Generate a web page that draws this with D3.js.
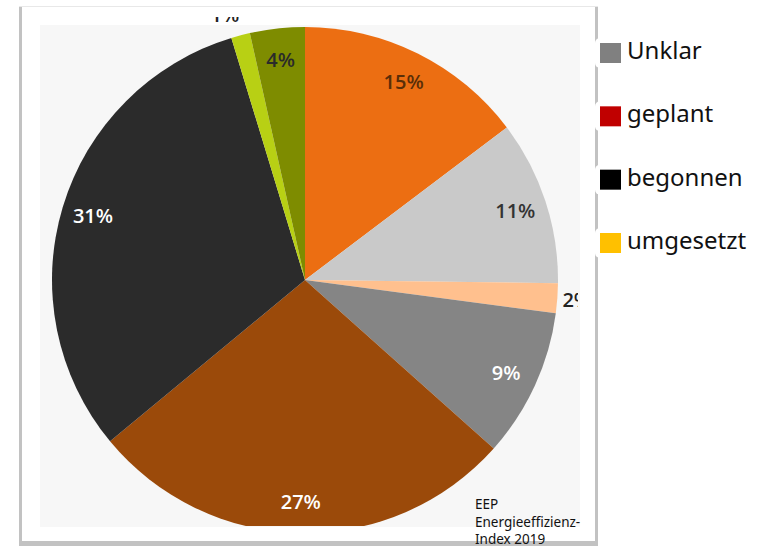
<!DOCTYPE html>
<html>
<head>
<meta charset="utf-8">
<script src="https://cdn.jsdelivr.net/npm/d3@7"></script>
<style>
  body { margin: 0; background: #fff; }
  svg { display: block; }
</style>
</head>
<body>
<div id="chart"></div>
<script>
    // Daten, im Uhrzeigersinn ab 12 Uhr
    const sliceValues = [14.7, 10.5, 1.9, 9.5, 27.4, 31.3, 1.2, 3.5];
    const sliceLabels = ["15%", "11%", "2%", "9%", "27%", "31%", "1%", "4%"];
    const sliceColors = ["#ec6e12", "#c9c9c9", "#ffc08e", "#858585", "#9b4a0a", "#2b2b2b", "#b8d014", "#7e8c00"];
    const labelInk = ["#5a2e08", "#333333", "#222222", "#ffffff", "#ffffff", "#ffffff", "#222222", "#2a2a2a"];
    const labelOutside = [false, false, true, false, false, false, true, false];

    const legendNames = ["Unklar", "geplant", "begonnen", "umgesetzt"];
    const legendColors = ["#808080", "#c00000", "#000000", "#ffc000"];

    const captionLines = ["EEP", "Energieeffizienz-", "Index 2019"];

    const width = 761, height = 548;
    const cx = 305, cy = 280, radius = 253;

    const svg = d3.select("#chart")
        .append("svg")
        .attr("width", width)
        .attr("height", height);

    // Rahmen mit Schatten
    svg.append("rect")
        .attr("x", 19).attr("y", 6)
        .attr("width", 579).attr("height", 540)
        .attr("fill", "#c2c2c2");
    svg.append("rect")
        .attr("x", 22).attr("y", 7)
        .attr("width", 573).attr("height", 534)
        .attr("fill", "#ffffff");
    svg.append("line")
        .attr("x1", 19).attr("x2", 598)
        .attr("y1", 6.5).attr("y2", 6.5)
        .attr("stroke", "#e8e8e8");

    // hellgraue Fläche hinter dem Kreis
    svg.append("rect")
        .attr("x", 40).attr("y", 25)
        .attr("width", 540).attr("height", 502)
        .attr("fill", "#f7f7f7");

    svg.append("clipPath")
        .attr("id", "cut")
        .append("rect")
        .attr("x", 40).attr("y", 17)
        .attr("width", 538).attr("height", 509);

    const pie = d3.pie().sort(null).value(d => d);
    const arcs = pie(sliceValues);

    const arc = d3.arc().innerRadius(0).outerRadius(radius);
    const inArc = d3.arc().innerRadius(radius * 0.875).outerRadius(radius * 0.875);
    const outArc = d3.arc().innerRadius(radius * 1.02).outerRadius(radius * 1.02);

    const g = svg.append("g")
        .attr("clip-path", "url(#cut)")
        .append("g")
        .attr("transform", `translate(${cx},${cy})`);

    g.selectAll("path")
        .data(arcs)
        .enter().append("path")
        .attr("d", arc)
        .attr("fill", (d, i) => sliceColors[i]);

    const mid = d => (d.startAngle + d.endAngle) / 2;

    g.selectAll("text")
        .data(arcs)
        .enter().append("text")
        .attr("transform", (d, i) => {
            const p = labelOutside[i] ? outArc.centroid(d) : inArc.centroid(d);
            return `translate(${p[0]},${p[1]})`;
        })
        .attr("text-anchor", (d, i) => {
            if (!labelOutside[i]) return "middle";
            return mid(d) < Math.PI ? "start" : "end";
        })
        // Außenbeschriftungen vom Kreis weg schieben
        .attr("dy", (d, i) => labelOutside[i]
            ? (0.36 - 0.8 * Math.cos(mid(d))) + "em"
            : "0.36em")
        .attr("font-family", "'Open Sans', sans-serif")
        .attr("font-weight", 600)
        .attr("font-size", 20)
        .attr("fill", (d, i) => labelInk[i])
        .text((d, i) => sliceLabels[i]);

    // Legende
    const ly = d3.scalePoint()
        .domain(legendNames)
        .range([53, 243]);

    const item = svg.selectAll(".legend")
        .data(legendNames)
        .enter().append("g")
        .attr("class", "legend")
        .attr("transform", d => `translate(595,${ly(d)})`);

    item.append("rect")
        .attr("x", 0).attr("y", -15)
        .attr("width", 166).attr("height", 30)
        .attr("rx", 5)
        .attr("fill", "#ffffff");

    item.append("rect")
        .attr("x", 5).attr("y", -10)
        .attr("width", 21).attr("height", 20)
        .attr("fill", (d, i) => legendColors[i]);

    item.append("text")
        .attr("x", 32).attr("y", 6)
        .attr("font-family", "'Noto Sans', sans-serif")
        .attr("font-size", 24)
        .attr("fill", "#111")
        .text(d => d);

    // Quellenangabe
    svg.append("g")
        .selectAll("text")
        .data(captionLines)
        .enter().append("text")
        .attr("x", 475)
        .attr("y", (d, i) => 509 + i * 17.5)
        .attr("font-family", "'Noto Sans', sans-serif")
        .attr("font-size", 13.5)
        .attr("fill", "#111")
        .text(d => d);
</script>
</body>
</html>
